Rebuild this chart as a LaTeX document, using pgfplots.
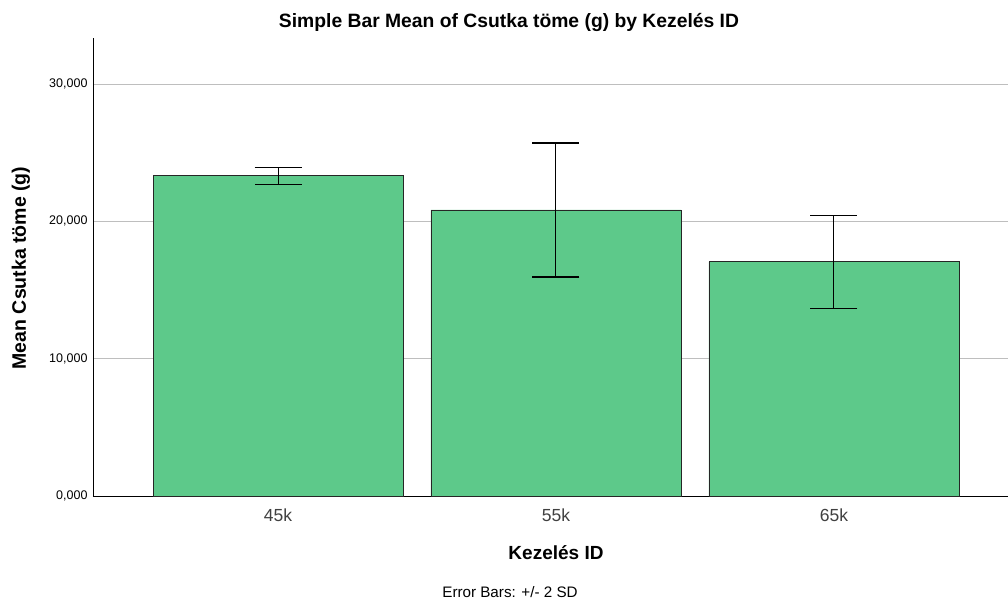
\documentclass[border=0pt]{standalone}
\usepackage{pgfplots}
\pgfplotsset{compat=1.18}
\usepackage{fontspec}
\setmainfont{Liberation Sans}
\definecolor{barg}{RGB}{93,201,138}
\definecolor{gridg}{RGB}{190,190,190}
\begin{document}
\begin{tikzpicture}[x=1pt,y=1pt]
\useasboundingbox (-93,-105) rectangle (915,496);
\begin{axis}[
  at={(0,0)}, anchor=south west,
  scale only axis, width=915pt, height=458pt,
  xmin=-0.6655, xmax=2.626,
  ymin=0, ymax=33350,
  scaled y ticks=false,
  axis x line=bottom, axis y line=left,
  axis line style={-, line width=0.8pt, black},
  xtick={0,1,2}, xticklabels={45k,55k,65k},
  ytick={0,10000,20000,30000},
  yticklabels={{0,000},{10,000},{20,000},{30,000}},
  major tick length=0pt,
  ymajorgrids, grid style={gridg, line width=0.8pt},
  xticklabel style={font=\fontsize{17.5}{20}\selectfont, text=black!75, yshift=-9pt},
  yticklabel style={font=\fontsize{12.5}{15}\selectfont, xshift=-2pt},
  clip=false,
]
\addplot[ybar, bar width=250pt, fill=barg, draw=black!85, line width=0.8pt,
  error bars/.cd, y dir=both, y explicit,
  error bar style={black, line width=1pt},
  error mark options={black, line width=1.2pt, mark size=23.5pt, rotate=90}]
  coordinates {
  (0,23316) +- (0,619)
  (1,20826) +- (0,4879)
  (2,17054) +- (0,3386)
  };
\end{axis}
\node[font=\bfseries\fontsize{19.5}{22}\selectfont, rotate=90] at (-72,228) {Mean Csutka töme (g)};
\node[font=\bfseries\fontsize{19.3}{22}\selectfont] at (416,474) {Simple Bar Mean of Csutka töme (g) by Kezelés ID};
\node[font=\bfseries\fontsize{19}{22}\selectfont] at (463,-57) {Kezelés ID};
\node[font=\fontsize{15.2}{18}\selectfont] at (417,-96) {Error Bars: +/- 2 SD};
\end{tikzpicture}
\end{document}
